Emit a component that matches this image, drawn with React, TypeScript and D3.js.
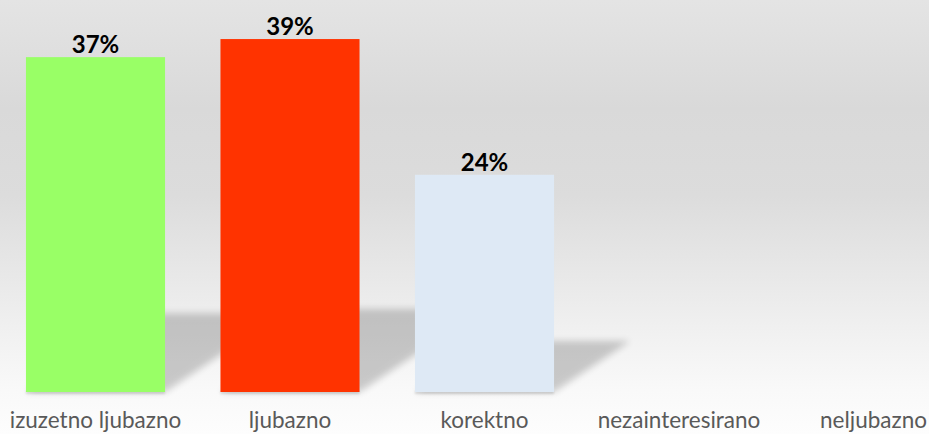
import React from "react";
import * as d3 from "d3";

const categories = ["izuzetno ljubazno", "ljubazno", "korektno", "nezainteresirano", "neljubazno"];
const values: (number | null)[] = [37, 39, 24, null, null];
const valueLabels = ["37%", "39%", "24%", "", ""];
const barColors = ["#99FF66", "#FF3300", "#DEE9F5", "#DEE9F5", "#DEE9F5"];

const W = 929;
const H = 434;

export default function App() {
  const x = d3
    .scaleBand<string>()
    .domain(categories)
    .range([-1.75, 970.75])
    .paddingInner(0.285)
    .paddingOuter(0.1425);
  const y = d3.scaleLinear().domain([0, 40]).range([392, 30]);
  const bw = x.bandwidth();
  const base = y(0);

  return (
    <svg
      width={W}
      height={H}
      style={{ position: "absolute", left: 0, top: 0 }}
      xmlns="http://www.w3.org/2000/svg"
    >
      <defs>
        <linearGradient id="bg" x1="0" y1="0" x2="0" y2="1">
          <stop offset="0" stopColor="#e4e4e4" />
          <stop offset="0.25" stopColor="#d9d9d9" />
          <stop offset="0.45" stopColor="#dcdcdc" />
          <stop offset="0.65" stopColor="#e9e9e9" />
          <stop offset="0.77" stopColor="#f1f1f1" />
          <stop offset="0.9" stopColor="#f9f9f9" />
          <stop offset="1" stopColor="#fdfdfd" />
        </linearGradient>
        <filter id="blur" x="-20%" y="-20%" width="140%" height="140%">
          <feGaussianBlur stdDeviation="3.5" />
        </filter>
        <filter id="blur2" x="-5%" y="-50%" width="110%" height="200%">
          <feGaussianBlur stdDeviation="1.2" />
        </filter>
      </defs>
      <rect x={0} y={0} width={W} height={H} fill="url(#bg)" />
      {categories.map((c, i) => {
        const v = values[i];
        if (v == null) return null;
        const x0 = x(c)!;
        const x1 = x0 + bw;
        const h = base - y(v);
        const dx = 0.35 * h;
        const sh = 0.235 * h;
        const pts = [
          [x0, base],
          [x1, base],
          [x1 + dx, base - sh],
          [x0 + dx, base - sh],
        ]
          .map((p) => p.join(","))
          .join(" ");
        return (
          <g key={"s" + c}>
            <polygon points={pts} fill="#000" opacity={0.19} filter="url(#blur)" />
            <rect x={x0} y={base - 1} width={bw} height={3} fill="#000" opacity={0.12} filter="url(#blur2)" />
          </g>
        );
      })}
      {categories.map((c, i) => {
        const v = values[i];
        if (v == null) return null;
        return (
          <rect key={"b" + c} x={x(c)!} y={y(v)} width={bw} height={base - y(v)} fill={barColors[i]} />
        );
      })}
      {categories.map((c, i) => {
        const v = values[i];
        if (v == null) return null;
        return (
          <text
            key={"l" + c}
            x={x(c)! + bw / 2}
            y={y(v) - 4}
            textAnchor="middle"
            fontFamily="Lato, 'Open Sans', sans-serif"
            fontWeight="bold"
            fontSize={24}
            fill="#000"
          >
            {valueLabels[i]}
          </text>
        );
      })}
      {categories.map((c) => (
        <text
          key={"c" + c}
          x={x(c)! + bw / 2}
          y={428}
          textAnchor="middle"
          fontFamily="Lato, 'Open Sans', sans-serif"
          fontSize={22.5}
          fill="#595959"
        >
          {c}
        </text>
      ))}
    </svg>
  );
}
